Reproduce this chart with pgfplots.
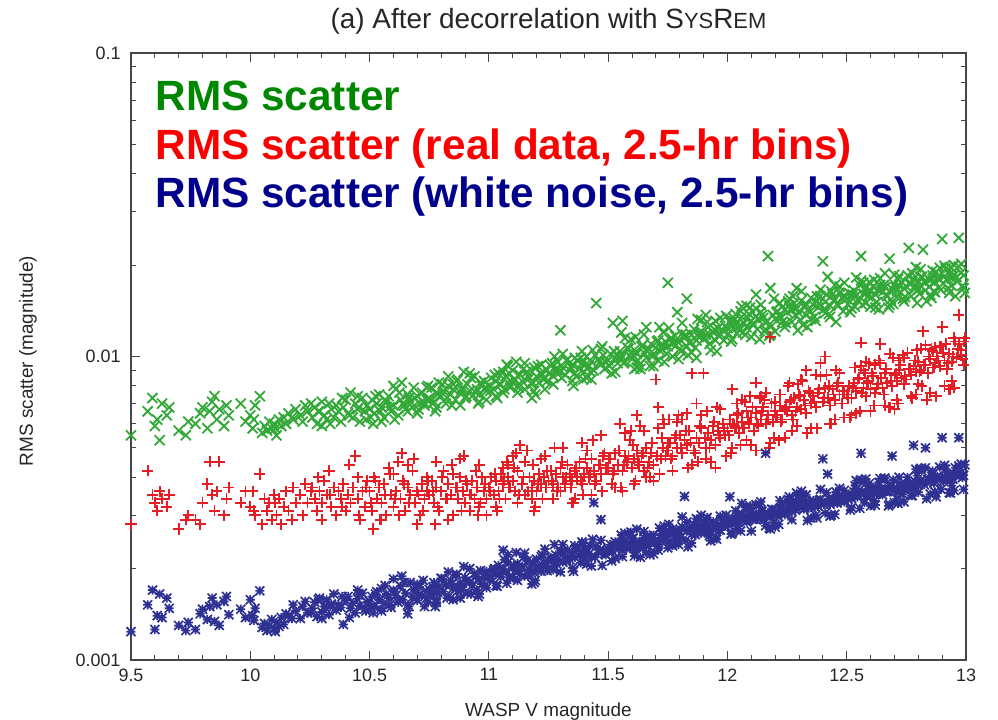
\documentclass[border=0pt]{standalone}
\usepackage{fontspec}
\setmainfont{Liberation Sans}
\usepackage{pgfplots}
\usepackage{pgfplotstable}
\pgfplotsset{compat=1.18}
\definecolor{lgreen}{RGB}{0,135,0}
\definecolor{lred}{RGB}{250,0,0}
\definecolor{lblue}{RGB}{0,0,140}
\definecolor{mkgreen}{RGB}{50,168,55}
\definecolor{mkred}{RGB}{228,30,36}
\definecolor{mkblue}{RGB}{46,49,146}
\definecolor{axgray}{RGB}{70,70,70}
\pgfdeclareplotmark{gpx}{%
 \pgfsetstrokecolor{mkgreen}%
 \pgfpathmoveto{\pgfqpoint{-\pgfplotmarksize}{-\pgfplotmarksize}}\pgfpathlineto{\pgfqpoint{\pgfplotmarksize}{\pgfplotmarksize}}%
 \pgfpathmoveto{\pgfqpoint{-\pgfplotmarksize}{\pgfplotmarksize}}\pgfpathlineto{\pgfqpoint{\pgfplotmarksize}{-\pgfplotmarksize}}%
 \pgfusepathqstroke}
\pgfdeclareplotmark{gpplus}{%
 \pgfsetstrokecolor{mkred}%
 \pgfpathmoveto{\pgfqpoint{-\pgfplotmarksize}{0pt}}\pgfpathlineto{\pgfqpoint{\pgfplotmarksize}{0pt}}%
 \pgfpathmoveto{\pgfqpoint{0pt}{-\pgfplotmarksize}}\pgfpathlineto{\pgfqpoint{0pt}{\pgfplotmarksize}}%
 \pgfusepathqstroke}
\pgfdeclareplotmark{gpstar}{%
 \pgfsetstrokecolor{mkblue}%
 \pgfpathmoveto{\pgfqpoint{-\pgfplotmarksize}{0pt}}\pgfpathlineto{\pgfqpoint{\pgfplotmarksize}{0pt}}%
 \pgfpathmoveto{\pgfqpoint{0pt}{-\pgfplotmarksize}}\pgfpathlineto{\pgfqpoint{0pt}{\pgfplotmarksize}}%
 \pgfpathmoveto{\pgfqpoint{-\pgfplotmarksize}{-\pgfplotmarksize}}\pgfpathlineto{\pgfqpoint{\pgfplotmarksize}{\pgfplotmarksize}}%
 \pgfpathmoveto{\pgfqpoint{-\pgfplotmarksize}{\pgfplotmarksize}}\pgfpathlineto{\pgfqpoint{\pgfplotmarksize}{-\pgfplotmarksize}}%
 \pgfusepathqstroke}
\newcommand\scfont{\fontsize{22}{22}\selectfont}
\pgfplotstableread{
x g r b
9.50 0.0055 0.0028 0.00124
9.57 0.0066 0.0042 0.00152
9.59 0.0073 0.0035 0.00170
9.60 0.0059 0.0033 0.00126
9.61 0.0062 0.0031 0.00140
9.62 0.0053 0.0036 0.00165
9.63 0.0070 0.0034 0.00138
9.65 0.0064 0.0032 0.00160
9.70 0.0057 0.0027 0.00130
9.73 0.0055 0.0029 0.00125
9.66 0.0068 0.0035 0.00148
9.74 0.0061 0.0030 0.00133
9.77 0.0060 0.0029 0.00126
9.79 0.0065 0.0028 0.00142
9.80 0.0068 0.0033 0.00147
9.82 0.0058 0.0038 0.00136
9.83 0.0066 0.0045 0.00150
9.84 0.0071 0.0035 0.00160
9.85 0.0074 0.0031 0.00134
9.86 0.0062 0.0036 0.00152
9.87 0.0067 0.0045 0.00130
9.89 0.0059 0.0030 0.00156
9.90 0.0069 0.0034 0.00162
9.91 0.0064 0.0037 0.00141
9.96 0.0070 0.0033 0.00147
9.98 0.0061 0.0036 0.00138
10.00 0.0064 0.0032 0.00158
10.01 0.0058 0.0036 0.00140
10.02 0.0069 0.0030 0.00148
10.04 0.0074 0.0041 0.00169
10.05 0.0056 0.0028 0.00128
10.06 0.0059 0.0034 0.00132
10.07 0.0057 0.0031 0.00125
10.08 0.0061 0.0033 0.00130
10.09 0.0058 0.0029 0.00136
10.10 0.0060 0.0035 0.00127
10.11 0.0055 0.0030 0.00133
10.12 0.0062 0.0034 0.00129
10.13 0.0059 0.0028 0.00138
10.14 0.0063 0.0032 0.00131
10.15 0.0060 0.0036 0.00142
10.16 0.0065 0.0031 0.00140
10.18 0.0062 0.0037 0.00152
10.19 0.0067 0.0033 0.00145
10.21 0.0064 0.0035 0.00137
10.22 0.0061 0.0030 0.00150
10.23 0.0069 0.0038 0.00156
10.24 0.0066 0.0033 0.00143
10.26 0.0063 0.0037 0.00148
10.27 0.0068 0.0034 0.00155
10.28 0.0060 0.0031 0.00139
10.29 0.0066 0.0036 0.00160
10.30 0.0071 0.0033 0.00144
10.31 0.0064 0.0039 0.00150
10.32 0.0062 0.0035 0.00158
10.33 0.0070 0.0042 0.00141
10.34 0.0067 0.0032 0.00153
10.35 0.0063 0.0037 0.00165
10.36 0.0069 0.0030 0.00146
10.37 0.0066 0.0036 0.00152
10.38 0.0061 0.0034 0.00149
10.39 0.0068 0.0038 0.00131
10.40 0.0072 0.0031 0.00157
10.41 0.0065 0.0035 0.00162
10.42 0.0076 0.0033 0.00148
10.43 0.0063 0.0037 0.00154
10.44 0.0070 0.0047 0.00143
10.45 0.0067 0.0034 0.00159
10.46 0.0061 0.0029 0.00151
10.47 0.0073 0.0036 0.00166
10.48 0.0066 0.0032 0.00147
10.49 0.0069 0.0039 0.00155
10.30 0.0059 0.0029 0.00137
10.45 0.0074 0.0040 0.00170
10.50 0.0067 0.0036 0.00156
10.51 0.0072 0.0031 0.00162
10.52 0.0065 0.0040 0.00150
10.53 0.0070 0.0034 0.00168
10.54 0.0075 0.0037 0.00158
10.55 0.0068 0.0033 0.00172
10.56 0.0063 0.0038 0.00154
10.57 0.0071 0.0030 0.00165
10.58 0.0074 0.0043 0.00160
10.59 0.0066 0.0035 0.00149
10.60 0.0069 0.0032 0.00170
10.61 0.0078 0.0036 0.00163
10.62 0.0064 0.0045 0.00155
10.63 0.0072 0.0034 0.00175
10.64 0.0070 0.0039 0.00158
10.65 0.0067 0.0031 0.00166
10.66 0.0075 0.0037 0.00152
10.67 0.0071 0.0035 0.00180
10.68 0.0068 0.0042 0.00161
10.69 0.0073 0.0033 0.00169
10.70 0.0065 0.0036 0.00157
10.71 0.0070 0.0030 0.00174
10.72 0.0076 0.0038 0.00163
10.73 0.0069 0.0034 0.00150
10.74 0.0072 0.0040 0.00168
10.55 0.0061 0.0029 0.00145
10.60 0.0080 0.0041 0.00185
10.66 0.0066 0.0044 0.00142
10.70 0.0074 0.0028 0.00178
10.74 0.0079 0.0036 0.00160
10.75 0.0073 0.0035 0.00171
10.76 0.0079 0.0039 0.00165
10.77 0.0071 0.0033 0.00180
10.78 0.0076 0.0037 0.00158
10.79 0.0082 0.0031 0.00175
10.80 0.0074 0.0036 0.00186
10.81 0.0077 0.0042 0.00168
10.82 0.0070 0.0034 0.00177
10.83 0.0080 0.0038 0.00162
10.84 0.0075 0.0035 0.00183
10.85 0.0078 0.0030 0.00172
10.86 0.0072 0.0037 0.00190
10.87 0.0084 0.0034 0.00169
10.88 0.0076 0.0040 0.00179
10.89 0.0079 0.0036 0.00174
10.90 0.0073 0.0033 0.00187
10.91 0.0081 0.0038 0.00166
10.92 0.0077 0.0035 0.00181
10.93 0.0074 0.0039 0.00176
10.94 0.0086 0.0034 0.00193
10.95 0.0078 0.0037 0.00170
10.96 0.0075 0.0032 0.00184
10.97 0.0080 0.0040 0.00178
10.98 0.0083 0.0036 0.00188
10.99 0.0077 0.0034 0.00173
10.78 0.0068 0.0045 0.00155
10.83 0.0086 0.0029 0.00195
10.88 0.0069 0.0046 0.00160
10.92 0.0088 0.0031 0.00200
10.96 0.0071 0.0044 0.00165
10.85 0.0081 0.0041 0.00158
10.99 0.0072 0.0030 0.00196
11.00 0.0080 0.0037 0.00190
11.01 0.0085 0.0040 0.00185
11.02 0.0078 0.0035 0.00198
11.03 0.0083 0.0039 0.00192
11.04 0.0088 0.0036 0.00205
11.05 0.0081 0.0041 0.00188
11.06 0.0076 0.0038 0.00200
11.07 0.0086 0.0034 0.00195
11.08 0.0082 0.0040 0.00210
11.09 0.0079 0.0037 0.00186
11.10 0.0090 0.0039 0.00202
11.11 0.0084 0.0036 0.00197
11.12 0.0080 0.0042 0.00208
11.13 0.0087 0.0051 0.00192
11.14 0.0083 0.0038 0.00203
11.15 0.0078 0.0035 0.00189
11.16 0.0089 0.0049 0.00212
11.17 0.0085 0.0040 0.00199
11.18 0.0081 0.0037 0.00206
11.19 0.0092 0.0039 0.00194
11.20 0.0086 0.0036 0.00215
11.21 0.0082 0.0041 0.00201
11.22 0.0088 0.0038 0.00196
11.23 0.0084 0.0040 0.00209
11.24 0.0091 0.0037 0.00204
11.03 0.0074 0.0032 0.00176
11.08 0.0093 0.0044 0.00222
11.12 0.0076 0.0033 0.00183
11.15 0.0095 0.0045 0.00225
11.19 0.0077 0.0031 0.00180
11.22 0.0094 0.0046 0.00219
11.06 0.0089 0.0043 0.00230
11.18 0.0073 0.0034 0.00178
11.10 0.0082 0.0047 0.00188
11.25 0.0088 0.0039 0.00212
11.26 0.0093 0.0042 0.00218
11.27 0.0086 0.0038 0.00208
11.28 0.0091 0.0041 0.00222
11.29 0.0096 0.0037 0.00215
11.30 0.0089 0.0043 0.00226
11.31 0.0092 0.0040 0.00210
11.32 0.0087 0.0038 0.00220
11.33 0.0098 0.0044 0.00231
11.34 0.0090 0.0041 0.00214
11.35 0.0094 0.0039 0.00225
11.36 0.0088 0.0042 0.00218
11.37 0.0097 0.0040 0.00235
11.38 0.0091 0.0045 0.00221
11.39 0.0095 0.0038 0.00228
11.40 0.0089 0.0041 0.00216
11.41 0.0100 0.0043 0.00232
11.42 0.0093 0.0040 0.00224
11.43 0.0096 0.0046 0.00219
11.44 0.0090 0.0042 0.00330
11.45 0.0150 0.0039 0.00237
11.46 0.0098 0.0044 0.00226
11.47 0.0094 0.0041 0.00290
11.48 0.0101 0.0047 0.00230
11.49 0.0096 0.0043 0.00222
11.27 0.0081 0.0034 0.00198
11.31 0.0102 0.0050 0.00240
11.35 0.0083 0.0033 0.00201
11.39 0.0104 0.0052 0.00245
11.43 0.0084 0.0035 0.00204
11.47 0.0106 0.0055 0.00248
11.30 0.0122 0.0036 0.00195
11.41 0.0085 0.0049 0.00207
11.36 0.0099 0.0034 0.00238
11.50 0.0097 0.0043 0.00232
11.51 0.0102 0.0046 0.00240
11.52 0.0129 0.0041 0.00228
11.53 0.0099 0.0048 0.00245
11.54 0.0095 0.0044 0.00236
11.55 0.0104 0.0060 0.00242
11.56 0.0100 0.0042 0.00230
11.57 0.0096 0.0047 0.00248
11.58 0.0107 0.0045 0.00238
11.59 0.0101 0.0053 0.00233
11.60 0.0098 0.0043 0.00251
11.61 0.0105 0.0046 0.00241
11.62 0.0102 0.0049 0.00236
11.63 0.0094 0.0044 0.00246
11.64 0.0108 0.0047 0.00239
11.65 0.0103 0.0042 0.00253
11.66 0.0099 0.0050 0.00243
11.67 0.0106 0.0045 0.00237
11.68 0.0110 0.0048 0.00249
11.69 0.0102 0.0044 0.00258
11.70 0.0107 0.0084 0.00245
11.71 0.0113 0.0068 0.00240
11.72 0.0104 0.0046 0.00252
11.73 0.0109 0.0050 0.00247
11.74 0.0112 0.0047 0.00256
11.53 0.0089 0.0037 0.00216
11.57 0.0115 0.0056 0.00262
11.61 0.0091 0.0038 0.00220
11.65 0.0118 0.0057 0.00265
11.69 0.0093 0.0039 0.00224
11.73 0.0120 0.0062 0.00268
11.56 0.0131 0.0036 0.00219
11.75 0.0175 0.0052 0.00234
11.62 0.0092 0.0064 0.00270
11.66 0.0125 0.0040 0.00226
11.71 0.0097 0.0058 0.00230
11.75 0.0108 0.0049 0.00258
11.76 0.0114 0.0052 0.00264
11.77 0.0110 0.0047 0.00270
11.78 0.0117 0.0054 0.00255
11.79 0.0112 0.0050 0.00268
11.80 0.0106 0.0055 0.00261
11.81 0.0119 0.0048 0.00275
11.82 0.0115 0.0053 0.00346
11.83 0.0155 0.0051 0.00266
11.84 0.0111 0.0057 0.00272
11.85 0.0118 0.0088 0.00259
11.86 0.0123 0.0049 0.00280
11.87 0.0113 0.0054 0.00268
11.88 0.0116 0.0052 0.00274
11.89 0.0121 0.0058 0.00262
11.90 0.0114 0.0088 0.00283
11.91 0.0118 0.0050 0.00270
11.92 0.0125 0.0056 0.00277
11.93 0.0117 0.0053 0.00265
11.94 0.0120 0.0059 0.00286
11.95 0.0113 0.0051 0.00272
11.96 0.0124 0.0057 0.00279
11.97 0.0119 0.0054 0.00268
11.98 0.0122 0.0060 0.00289
11.99 0.0126 0.0055 0.00276
11.77 0.0100 0.0042 0.00238
11.81 0.0129 0.0062 0.00296
11.85 0.0103 0.0044 0.00243
11.89 0.0132 0.0064 0.00300
11.93 0.0105 0.0045 0.00247
11.97 0.0134 0.0067 0.00298
11.79 0.0140 0.0061 0.00250
11.87 0.0099 0.0070 0.00292
11.95 0.0131 0.0043 0.00252
11.83 0.0108 0.0065 0.00285
11.91 0.0137 0.0046 0.00290
12.00 0.0124 0.0057 0.00286
12.01 0.0130 0.0062 0.00345
12.02 0.0126 0.0078 0.00292
12.03 0.0133 0.0059 0.00281
12.04 0.0128 0.0064 0.00298
12.05 0.0122 0.0056 0.00288
12.06 0.0135 0.0061 0.00303
12.07 0.0129 0.0058 0.00294
12.08 0.0125 0.0066 0.00285
12.09 0.0138 0.0060 0.00299
12.10 0.0131 0.0063 0.00308
12.11 0.0127 0.0057 0.00291
12.12 0.0136 0.0065 0.00302
12.13 0.0132 0.0059 0.00296
12.14 0.0140 0.0062 0.00311
12.15 0.0134 0.0068 0.00300
12.16 0.0129 0.0060 0.00480
12.17 0.0214 0.0064 0.00305
12.18 0.0168 0.0116 0.00297
12.19 0.0137 0.0061 0.00313
12.20 0.0133 0.0066 0.00304
12.21 0.0141 0.0063 0.00298
12.22 0.0136 0.0069 0.00316
12.23 0.0130 0.0062 0.00307
12.24 0.0143 0.0067 0.00301
12.02 0.0114 0.0050 0.00262
12.06 0.0146 0.0072 0.00328
12.10 0.0116 0.0051 0.00266
12.14 0.0148 0.0074 0.00332
12.18 0.0118 0.0052 0.00270
12.22 0.0150 0.0075 0.00335
12.04 0.0119 0.0070 0.00270
12.12 0.0144 0.0049 0.00325
12.20 0.0121 0.0071 0.00274
12.08 0.0147 0.0053 0.00320
12.16 0.0123 0.0076 0.00277
12.24 0.0125 0.0054 0.00330
12.12 0.0160 0.0082 0.00290
12.25 0.0140 0.0066 0.00312
12.26 0.0147 0.0071 0.00320
12.27 0.0142 0.0064 0.00308
12.28 0.0150 0.0073 0.00325
12.29 0.0144 0.0068 0.00316
12.30 0.0139 0.0075 0.00330
12.31 0.0153 0.0067 0.00321
12.32 0.0146 0.0072 0.00314
12.33 0.0149 0.0065 0.00334
12.34 0.0143 0.0077 0.00323
12.35 0.0156 0.0070 0.00318
12.36 0.0148 0.0074 0.00336
12.37 0.0152 0.0068 0.00327
12.38 0.0145 0.0076 0.00321
12.39 0.0158 0.0095 0.00338
12.40 0.0206 0.0071 0.00460
12.41 0.0151 0.0079 0.00331
12.42 0.0183 0.0073 0.00410
12.43 0.0147 0.0069 0.00326
12.44 0.0160 0.0078 0.00342
12.45 0.0154 0.0072 0.00334
12.46 0.0149 0.0080 0.00329
12.47 0.0162 0.0075 0.00345
12.48 0.0156 0.0070 0.00338
12.49 0.0159 0.0077 0.00332
12.27 0.0130 0.0057 0.00290
12.31 0.0164 0.0084 0.00360
12.35 0.0133 0.0058 0.00294
12.39 0.0166 0.0086 0.00365
12.43 0.0135 0.0060 0.00298
12.47 0.0170 0.0088 0.00368
12.29 0.0168 0.0059 0.00355
12.37 0.0131 0.0087 0.00300
12.45 0.0172 0.0062 0.00302
12.33 0.0137 0.0090 0.00350
12.41 0.0139 0.0100 0.00305
12.49 0.0175 0.0063 0.00362
12.26 0.0155 0.0082 0.00345
12.50 0.0155 0.0075 0.00346
12.51 0.0162 0.0080 0.00352
12.52 0.0157 0.0073 0.00341
12.53 0.0165 0.0082 0.00358
12.54 0.0159 0.0077 0.00349
12.55 0.0153 0.0085 0.00362
12.56 0.0214 0.0111 0.00480
12.57 0.0161 0.0079 0.00355
12.58 0.0168 0.0074 0.00347
12.59 0.0158 0.0083 0.00366
12.60 0.0164 0.0078 0.00352
12.61 0.0170 0.0086 0.00360
12.62 0.0160 0.0076 0.00371
12.63 0.0166 0.0081 0.00356
12.64 0.0172 0.0110 0.00363
12.65 0.0163 0.0079 0.00350
12.66 0.0169 0.0088 0.00368
12.67 0.0158 0.0082 0.00359
12.68 0.0210 0.0102 0.00374
12.69 0.0167 0.0080 0.00470
12.70 0.0173 0.0087 0.00362
12.71 0.0165 0.0083 0.00369
12.72 0.0171 0.0090 0.00358
12.73 0.0176 0.0085 0.00377
12.74 0.0168 0.0081 0.00365
12.52 0.0144 0.0064 0.00318
12.56 0.0178 0.0093 0.00392
12.60 0.0146 0.0066 0.00322
12.64 0.0181 0.0095 0.00396
12.68 0.0148 0.0068 0.00326
12.72 0.0184 0.0097 0.00400
12.54 0.0182 0.0065 0.00390
12.62 0.0145 0.0094 0.00324
12.70 0.0186 0.0067 0.00330
12.58 0.0150 0.0096 0.00395
12.66 0.0188 0.0069 0.00398
12.74 0.0152 0.0099 0.00332
12.57 0.0175 0.0090 0.00385
12.71 0.0157 0.0072 0.00340
12.75 0.0170 0.0084 0.00372
12.76 0.0228 0.0091 0.00381
12.77 0.0174 0.0087 0.00368
12.78 0.0180 0.0093 0.00510
12.79 0.0172 0.0089 0.00385
12.80 0.0177 0.0096 0.00378
12.81 0.0183 0.0090 0.00391
12.82 0.0225 0.0121 0.00383
12.83 0.0175 0.0094 0.00500
12.84 0.0181 0.0088 0.00394
12.85 0.0178 0.0098 0.00386
12.86 0.0185 0.0092 0.00399
12.87 0.0176 0.0095 0.00389
12.88 0.0182 0.0100 0.00403
12.89 0.0179 0.0093 0.00395
12.90 0.0244 0.0125 0.00540
12.91 0.0184 0.0097 0.00401
12.92 0.0180 0.0091 0.00392
12.93 0.0187 0.0102 0.00408
12.94 0.0181 0.0096 0.00398
12.95 0.0186 0.0115 0.00411
12.96 0.0183 0.0099 0.00404
12.97 0.0246 0.0137 0.00540
12.98 0.0189 0.0101 0.00415
12.99 0.0185 0.0094 0.00406
12.77 0.0158 0.0074 0.00348
12.81 0.0194 0.0106 0.00428
12.85 0.0160 0.0076 0.00352
12.89 0.0196 0.0108 0.00432
12.93 0.0162 0.0078 0.00356
12.97 0.0198 0.0110 0.00436
12.79 0.0197 0.0075 0.00425
12.87 0.0163 0.0107 0.00358
12.95 0.0200 0.0079 0.00362
12.83 0.0165 0.0109 0.00430
12.91 0.0199 0.0080 0.00438
12.99 0.0168 0.0112 0.00365
12.86 0.0192 0.0104 0.00420
12.94 0.0171 0.0083 0.00375
12.98 0.0202 0.0105 0.00442
12.80 0.0166 0.0081 0.00357
10.015 0.0062 0.0031 0.00135
10.105 0.0058 0.0033 0.00124
10.175 0.0063 0.0029 0.00137
10.255 0.0070 0.0036 0.00143
10.285 0.0066 0.0040 0.00158
10.335 0.0060 0.0035 0.00150
10.385 0.0073 0.0032 0.00162
10.415 0.0064 0.0044 0.00138
10.455 0.0068 0.0030 0.00164
10.485 0.0062 0.0037 0.00145
10.505 0.0063 0.0033 0.00150
10.525 0.0074 0.0039 0.00165
10.545 0.0066 0.0029 0.00147
10.565 0.0072 0.0035 0.00176
10.585 0.0068 0.0041 0.00152
10.605 0.0062 0.0034 0.00168
10.625 0.0076 0.0030 0.00158
10.645 0.0069 0.0038 0.00180
10.665 0.0073 0.0033 0.00150
10.685 0.0079 0.0046 0.00171
10.705 0.0067 0.0035 0.00164
10.725 0.0071 0.0031 0.00183
10.745 0.0080 0.0039 0.00155
10.765 0.0070 0.0036 0.00174
10.785 0.0075 0.0032 0.00167
10.805 0.0081 0.0040 0.00185
10.825 0.0073 0.0034 0.00160
10.845 0.0069 0.0044 0.00178
10.865 0.0083 0.0037 0.00192
10.885 0.0078 0.0031 0.00170
10.905 0.0074 0.0039 0.00182
10.925 0.0085 0.0035 0.00165
10.945 0.0076 0.0042 0.00188
10.965 0.0082 0.0033 0.00197
10.985 0.0079 0.0038 0.00176
10.515 0.0060 0.0027 0.00143
10.635 0.0082 0.0048 0.00189
10.775 0.0066 0.0028 0.00150
10.895 0.0089 0.0047 0.00203
10.955 0.0070 0.0030 0.00162
11.005 0.0077 0.0036 0.00183
11.025 0.0087 0.0041 0.00200
11.045 0.0081 0.0034 0.00192
11.065 0.0078 0.0039 0.00214
11.085 0.0088 0.0037 0.00187
11.105 0.0084 0.0043 0.00205
11.125 0.0079 0.0035 0.00197
11.145 0.0091 0.0040 0.00218
11.165 0.0086 0.0036 0.00190
11.185 0.0082 0.0044 0.00210
11.205 0.0093 0.0038 0.00203
11.225 0.0087 0.0034 0.00222
11.245 0.0083 0.0042 0.00197
11.265 0.0095 0.0039 0.00214
11.285 0.0090 0.0036 0.00207
11.305 0.0085 0.0045 0.00228
11.325 0.0097 0.0040 0.00212
11.345 0.0092 0.0037 0.00220
11.365 0.0086 0.0043 0.00233
11.385 0.0099 0.0039 0.00209
11.405 0.0094 0.0046 0.00226
11.425 0.0089 0.0041 0.00238
11.445 0.0101 0.0038 0.00218
11.465 0.0096 0.0044 0.00231
11.485 0.0091 0.0048 0.00224
11.035 0.0073 0.0031 0.00175
11.115 0.0096 0.0048 0.00226
11.195 0.0075 0.0032 0.00183
11.275 0.0100 0.0050 0.00240
11.355 0.0080 0.0033 0.00196
11.435 0.0105 0.0053 0.00250
11.075 0.0094 0.0045 0.00179
11.235 0.0078 0.0047 0.00232
11.395 0.0084 0.0035 0.00242
11.475 0.0108 0.0036 0.00205
11.505 0.0093 0.0046 0.00228
11.525 0.0104 0.0042 0.00240
11.545 0.0099 0.0049 0.00233
11.565 0.0095 0.0044 0.00247
11.585 0.0106 0.0047 0.00236
11.605 0.0101 0.0051 0.00252
11.625 0.0097 0.0045 0.00241
11.645 0.0109 0.0048 0.00234
11.665 0.0104 0.0043 0.00256
11.685 0.0100 0.0052 0.00245
11.705 0.0112 0.0047 0.00238
11.725 0.0106 0.0054 0.00260
11.745 0.0102 0.0049 0.00249
11.765 0.0115 0.0046 0.00243
11.785 0.0109 0.0055 0.00263
11.805 0.0104 0.0050 0.00254
11.825 0.0118 0.0057 0.00248
11.845 0.0112 0.0052 0.00268
11.865 0.0107 0.0048 0.00259
11.885 0.0120 0.0059 0.00272
11.905 0.0115 0.0054 0.00263
11.925 0.0110 0.0050 0.00257
11.945 0.0123 0.0061 0.00278
11.965 0.0117 0.0055 0.00268
11.985 0.0113 0.0058 0.00283
11.515 0.0088 0.0038 0.00212
11.595 0.0114 0.0057 0.00264
11.675 0.0093 0.0040 0.00222
11.755 0.0124 0.0062 0.00280
11.835 0.0101 0.0043 0.00236
11.915 0.0130 0.0066 0.00295
11.555 0.0120 0.0037 0.00258
11.635 0.0091 0.0059 0.00218
11.715 0.0125 0.0041 0.00272
11.795 0.0098 0.0064 0.00240
11.875 0.0133 0.0045 0.00290
11.955 0.0104 0.0068 0.00250
11.615 0.0116 0.0039 0.00226
11.735 0.0096 0.0060 0.00276
11.995 0.0136 0.0047 0.00300
12.005 0.0119 0.0055 0.00279
12.025 0.0131 0.0060 0.00290
12.045 0.0125 0.0065 0.00284
12.065 0.0120 0.0058 0.00298
12.085 0.0134 0.0063 0.00288
12.105 0.0128 0.0068 0.00302
12.125 0.0123 0.0060 0.00294
12.145 0.0137 0.0066 0.00309
12.165 0.0131 0.0062 0.00299
12.185 0.0126 0.0070 0.00314
12.205 0.0140 0.0064 0.00303
12.225 0.0134 0.0061 0.00318
12.245 0.0129 0.0068 0.00308
12.265 0.0143 0.0072 0.00322
12.285 0.0137 0.0066 0.00312
12.305 0.0132 0.0074 0.00327
12.325 0.0146 0.0069 0.00317
12.345 0.0140 0.0076 0.00331
12.365 0.0135 0.0071 0.00321
12.385 0.0150 0.0078 0.00336
12.405 0.0143 0.0073 0.00326
12.425 0.0138 0.0080 0.00340
12.445 0.0153 0.0075 0.00330
12.465 0.0147 0.0082 0.00345
12.485 0.0141 0.0077 0.00335
12.015 0.0112 0.0048 0.00260
12.095 0.0145 0.0074 0.00322
12.175 0.0117 0.0050 0.00272
12.255 0.0152 0.0080 0.00338
12.335 0.0125 0.0056 0.00288
12.415 0.0160 0.0087 0.00356
12.055 0.0141 0.0051 0.00266
12.135 0.0114 0.0073 0.00326
12.215 0.0149 0.0053 0.00280
12.295 0.0122 0.0081 0.00340
12.375 0.0158 0.0058 0.00294
12.455 0.0130 0.0090 0.00358
12.075 0.0118 0.0071 0.00318
12.195 0.0155 0.0054 0.00284
12.315 0.0127 0.0083 0.00350
12.435 0.0164 0.0060 0.00300
12.035 0.0138 0.0058 0.00310
12.155 0.0121 0.0072 0.00290
12.275 0.0158 0.0062 0.00333
12.505 0.0149 0.0073 0.00339
12.525 0.0160 0.0079 0.00350
12.545 0.0154 0.0084 0.00344
12.565 0.0148 0.0076 0.00358
12.585 0.0163 0.0082 0.00348
12.605 0.0157 0.0088 0.00363
12.625 0.0151 0.0079 0.00353
12.645 0.0166 0.0085 0.00368
12.665 0.0160 0.0091 0.00358
12.685 0.0154 0.0083 0.00373
12.705 0.0169 0.0088 0.00363
12.725 0.0163 0.0094 0.00378
12.745 0.0157 0.0086 0.00368
12.765 0.0173 0.0091 0.00383
12.785 0.0167 0.0097 0.00373
12.805 0.0161 0.0089 0.00388
12.825 0.0176 0.0094 0.00378
12.845 0.0170 0.0100 0.00393
12.865 0.0164 0.0092 0.00383
12.885 0.0180 0.0097 0.00398
12.905 0.0174 0.0103 0.00388
12.925 0.0168 0.0095 0.00404
12.945 0.0184 0.0100 0.00394
12.965 0.0177 0.0106 0.00409
12.985 0.0171 0.0098 0.00399
12.515 0.0140 0.0063 0.00312
12.595 0.0176 0.0095 0.00382
12.675 0.0145 0.0068 0.00322
12.755 0.0185 0.0103 0.00400
12.835 0.0152 0.0072 0.00340
12.915 0.0195 0.0110 0.00425
12.555 0.0172 0.0066 0.00316
12.635 0.0143 0.0097 0.00385
12.715 0.0180 0.0070 0.00328
12.795 0.0150 0.0105 0.00405
12.875 0.0190 0.0074 0.00345
12.955 0.0158 0.0112 0.00430
12.535 0.0146 0.0092 0.00375
12.615 0.0179 0.0069 0.00334
12.695 0.0149 0.0099 0.00392
12.775 0.0188 0.0073 0.00348
12.855 0.0156 0.0106 0.00415
12.935 0.0197 0.0078 0.00355
12.995 0.0162 0.0115 0.00440
12.575 0.0168 0.0088 0.00330
12.655 0.0172 0.0075 0.00395
12.735 0.0155 0.0101 0.00352
12.815 0.0183 0.0080 0.00420
12.895 0.0166 0.0108 0.00365
}\datatable
\begin{document}
\begin{tikzpicture}
\useasboundingbox (-131bp,-60bp) rectangle (867bp,660bp);
\begin{axis}[
  at={(0,0)}, anchor=south west,
  width=835bp, height=607bp, scale only axis,
  xmin=9.5, xmax=13, ymin=0.001, ymax=0.1, ymode=log,
  axis line style={axgray, line width=1.3bp},
  every tick/.style={axgray, line width=1bp},
  major tick length=9bp, minor tick length=5bp,
  tick align=inside,
  xtick={9.5,10,10.5,11,11.5,12,12.5,13},
  xticklabels={\mbox{9.5},\mbox{10},\mbox{10.5},\mbox{11},\mbox{11.5},\mbox{12},\mbox{12.5},\mbox{13}},
  minor x tick num=4,
  ytick={0.001,0.01,0.1},
  yticklabels={\mbox{0.001},\mbox{0.01},\mbox{0.1}},
  minor ytick={0.002,0.003,0.004,0.005,0.006,0.007,0.008,0.009,0.02,0.03,0.04,0.05,0.06,0.07,0.08,0.09},
  ticklabel style={font=\fontsize{18}{18}\selectfont, text=black!85},
  xticklabel style={yshift=-5bp},
  yticklabel style={xshift=-7bp},
  every axis x label/.style={at={(axis description cs:0.5,-0.0923)}, anchor=base, font=\fontsize{19}{19}\selectfont, text=black!85},
  every axis y label/.style={at={(axis description cs:-0.1234,0.4926)}, anchor=center, rotate=90, font=\fontsize{19}{19}\selectfont, text=black!85},
  xlabel={WASP V magnitude},
  ylabel={RMS scatter (magnitude)},
  title={(a) After decorrelation with S{\scfont YS}R{\scfont EM}},
  title style={at={(axis description cs:0.5,1.031)}, anchor=base, font=\fontsize{28}{28}\selectfont, text=black!85},
]
\addplot[only marks, mark=gpx, mark size=5bp, color=mkgreen, mark options={line width=1.8bp}] table[x=x, y=g]{\datatable};
\addplot[only marks, mark=gpplus, mark size=5.6bp, color=mkred, mark options={line width=1.8bp}] table[x=x, y=r]{\datatable};
\addplot[only marks, mark=gpstar, mark size=4.5bp, color=mkblue, mark options={line width=1.7bp}] table[x=x, y=b]{\datatable};
\node[anchor=base west, font=\fontsize{42.5}{42.5}\selectfont\bfseries, text=lgreen] at (rel axis cs:0.0251,0.906) {RMS scatter};
\node[anchor=base west, font=\fontsize{42.5}{42.5}\selectfont\bfseries, text=lred] at (rel axis cs:0.0251,0.824) {RMS scatter (real data, 2.5-hr bins)};
\node[anchor=base west, font=\fontsize{42.5}{42.5}\selectfont\bfseries, text=lblue] at (rel axis cs:0.0251,0.745) {RMS scatter (white noise, 2.5-hr bins)};
\end{axis}
\end{tikzpicture}
\end{document}
